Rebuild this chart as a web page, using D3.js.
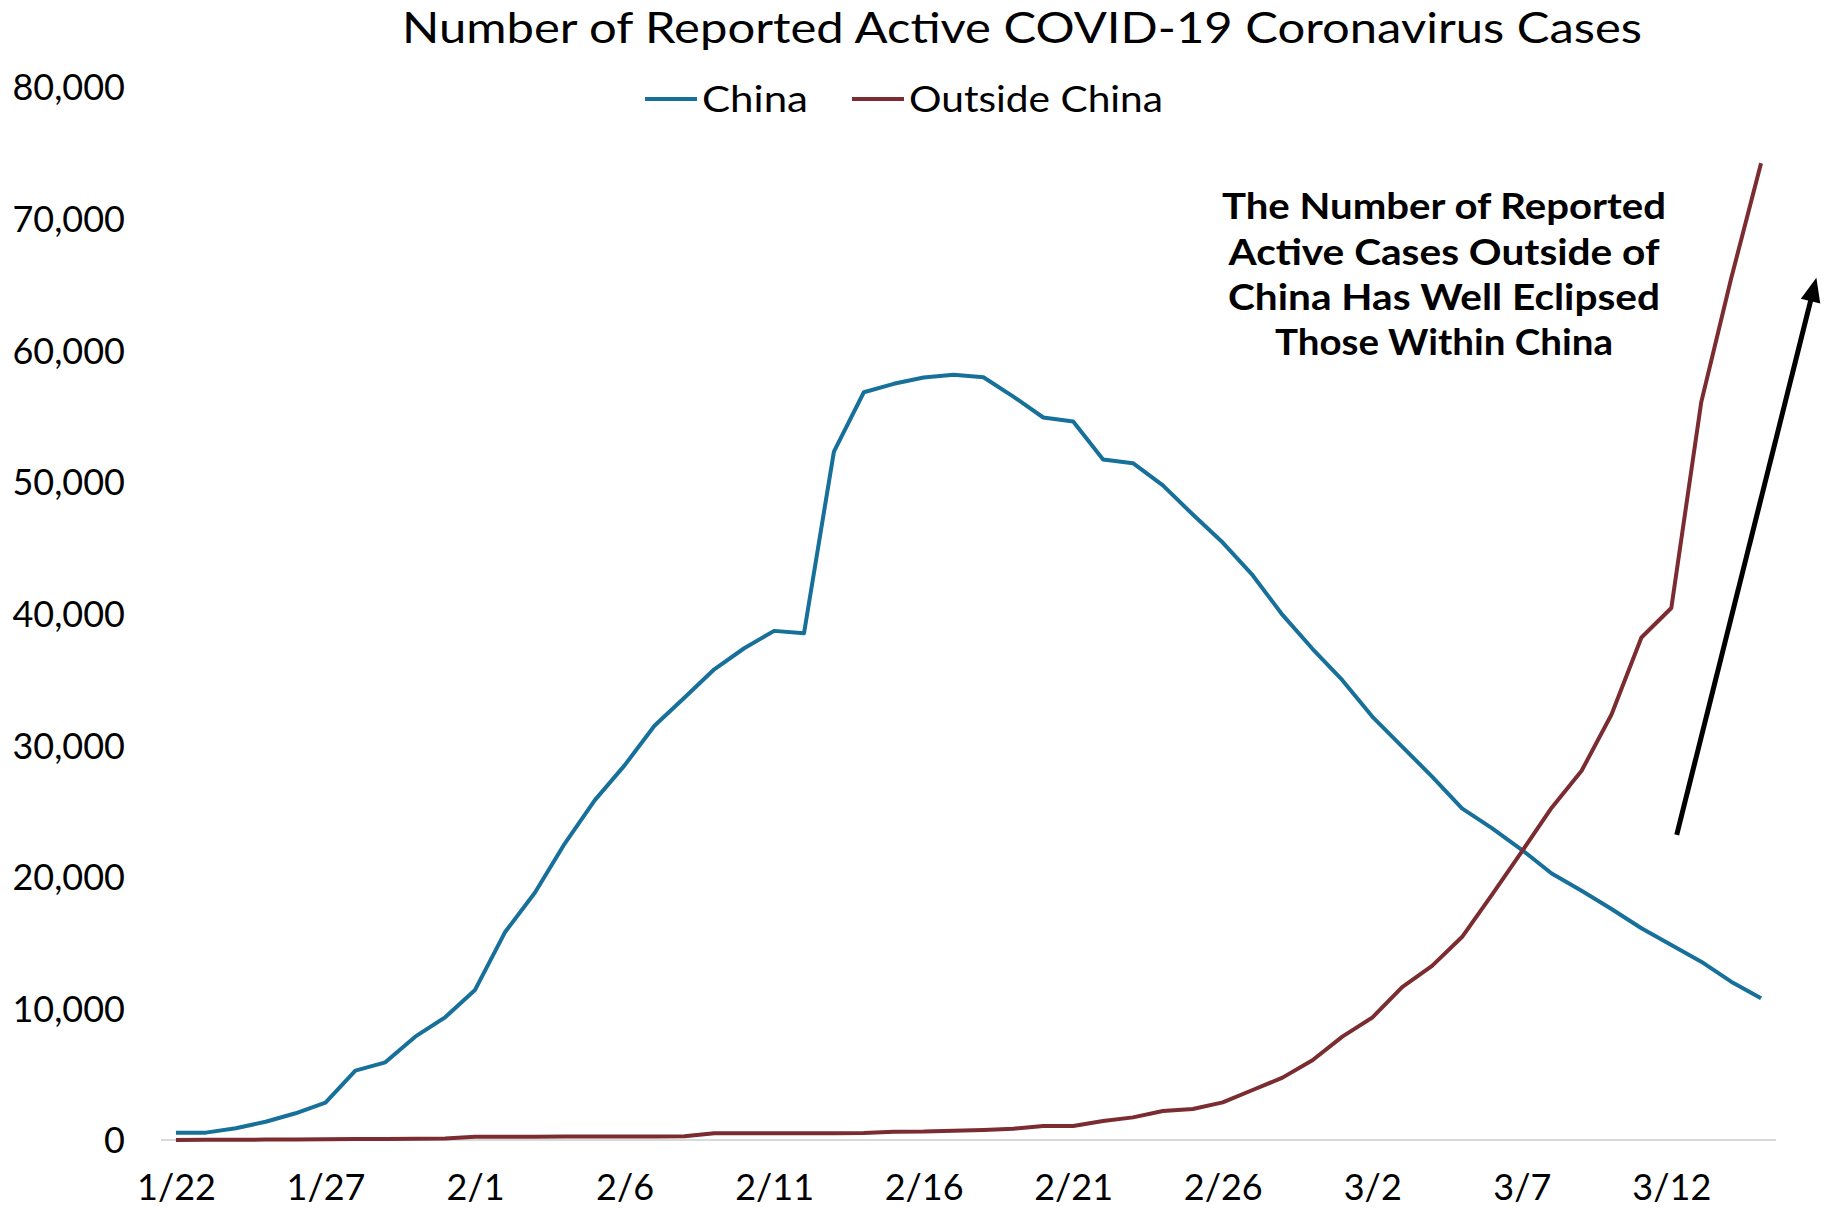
<!DOCTYPE html>
<html>
<head>
<meta charset="utf-8">
<script src="https://cdn.jsdelivr.net/npm/d3@7"></script>
<style>
  html, body { margin: 0; padding: 0; background: #ffffff; }
  svg { display: block; }
  text { font-family: Lato, "Open Sans", sans-serif; fill: #000; }
</style>
</head>
<body>
<svg id="chart" width="1829" height="1209"></svg>
<script>
// ---------- data ----------
const dates = [
  "1/22","1/23","1/24","1/25","1/26","1/27","1/28","1/29","1/30","1/31",
  "2/1","2/2","2/3","2/4","2/5","2/6","2/7","2/8","2/9","2/10",
  "2/11","2/12","2/13","2/14","2/15","2/16","2/17","2/18","2/19","2/20",
  "2/21","2/22","2/23","2/24","2/25","2/26","2/27","2/28","2/29","3/1",
  "3/2","3/3","3/4","3/5","3/6","3/7","3/8","3/9","3/10","3/11",
  "3/12","3/13","3/14","3/15"
];
const china = [
  560, 560, 890, 1390, 2030, 2840, 5270, 5900, 7850, 9320,
  11400, 15780, 18790, 22520, 25800, 28460, 31470, 33600, 35760, 37360,
  38680, 38500, 52300, 56810, 57450, 57930, 58130, 57950, 56480, 54890,
  54580, 51700, 51420, 49730, 47520, 45390, 42910, 39890, 37320, 34930,
  32170, 29890, 27610, 25200, 23700, 22050, 20250, 18930, 17550, 16090,
  14820, 13550, 12030, 10770
];
const outside = [
  7, 11, 20, 30, 40, 55, 70, 80, 90, 120,
  240, 250, 250, 260, 260, 270, 270, 280, 510, 510,
  520, 520, 520, 530, 630, 640, 710, 760, 860, 1060,
  1060, 1440, 1720, 2200, 2360, 2860, 3800, 4740, 6060, 7850,
  9300, 11620, 13230, 15420, 18620, 21910, 25250, 28050, 32330, 38180,
  40420, 56050, 65450, 74200
];
const xTickLabels = ["1/22","1/27","2/1","2/6","2/11","2/16","2/21","2/26","3/2","3/7","3/12"];
const yTickValues = [0, 10000, 20000, 30000, 40000, 50000, 60000, 70000, 80000];
const seriesNames = ["China", "Outside China"];
const titleText = "Number of Reported Active COVID-19 Coronavirus Cases";
const noteLines = ["The Number of Reported", "Active Cases Outside of", "China Has Well Eclipsed", "Those Within China"];
// arrow annotation in data space: [day index, value]
const arrowFrom = [50.18, 23180];
const arrowTo = [54.85, 65500];

// ---------- layout ----------
const svg = d3.select("#chart");
const colors = { "China": "#17709a", "Outside China": "#7b2c31" };

const x = d3.scalePoint().domain(dates).range([161, 1776]).padding(0.5);
const xi = d3.scaleLinear().domain([0, dates.length - 1]).range([x(dates[0]), x(dates[dates.length - 1])]);
const y = d3.scaleLinear().domain([0, 80000]).range([1140, 87]);

// title
svg.append("text")
  .attr("x", 1022).attr("y", 43)
  .attr("text-anchor", "middle")
  .attr("font-size", 42)
  .attr("textLength", 1240).attr("lengthAdjust", "spacingAndGlyphs")
  .text(titleText);

// y axis (labels only)
const yAxis = svg.append("g")
  .attr("transform", "translate(125,0)")
  .call(d3.axisLeft(y).tickValues(yTickValues).tickSize(0).tickPadding(0).tickFormat(d3.format(",")));
yAxis.select(".domain").remove();
yAxis.selectAll("text")
  .attr("font-family", "Lato, sans-serif")
  .attr("font-size", 36)
  .attr("fill", "#000")
  .attr("dy", "0.36em");

// x axis
const xAxis = svg.append("g")
  .attr("transform", `translate(0,${y(0)})`)
  .call(d3.axisBottom(x).tickValues(xTickLabels).tickSize(0).tickPadding(0));
xAxis.select(".domain")
  .attr("stroke", "#d9d9d9").attr("stroke-width", 2)
  .attr("d", `M161,0H1776`);
xAxis.selectAll("text")
  .attr("font-family", "Lato, sans-serif")
  .attr("font-size", 36)
  .attr("fill", "#000")
  .attr("dy", null)
  .attr("y", 60);

// lines
const line = d3.line()
  .x((d, i) => x(dates[i]))
  .y(d => y(d))
  .curve(d3.curveLinear);

[["China", china], ["Outside China", outside]].forEach(([name, vals]) => {
  svg.append("path")
    .datum(vals)
    .attr("fill", "none")
    .attr("stroke", colors[name])
    .attr("stroke-width", 4)
    .attr("stroke-linejoin", "round")
    .attr("d", line);
});

// legend
const legendItems = [
  { name: seriesNames[0], x0: 645, len: 106 },
  { name: seriesNames[1], x0: 852, len: 254 }
];
legendItems.forEach(it => {
  svg.append("line")
    .attr("x1", it.x0).attr("x2", it.x0 + 52)
    .attr("y1", 99).attr("y2", 99)
    .attr("stroke", colors[it.name]).attr("stroke-width", 4);
  svg.append("text")
    .attr("x", it.x0 + 57).attr("y", 112)
    .attr("font-size", 36)
    .attr("textLength", it.len).attr("lengthAdjust", "spacingAndGlyphs")
    .text(it.name);
});

// annotation text
const noteWidths = [444, 431, 432, 338];
const noteBase = [219, 265, 310, 355];
noteLines.forEach((t, i) => {
  svg.append("text")
    .attr("x", 1444).attr("y", noteBase[i])
    .attr("text-anchor", "middle")
    .attr("font-size", 36)
    .attr("font-weight", "bold")
    .attr("textLength", noteWidths[i]).attr("lengthAdjust", "spacingAndGlyphs")
    .text(t);
});

// arrow
const ax0 = xi(arrowFrom[0]), ay0 = y(arrowFrom[1]);
const ax1 = xi(arrowTo[0]), ay1 = y(arrowTo[1]);
const dx = ax1 - ax0, dy = ay1 - ay0, L = Math.hypot(dx, dy);
const ux = dx / L, uy = dy / L, nx = -uy, ny = ux;
const headLen = 24, headHalf = 10;
const bx = ax1 - ux * headLen, by = ay1 - uy * headLen;
svg.append("line")
  .attr("x1", ax0).attr("y1", ay0)
  .attr("x2", bx + ux * 2).attr("y2", by + uy * 2)
  .attr("stroke", "#000").attr("stroke-width", 5);
svg.append("path")
  .attr("d", `M${ax1},${ay1}L${bx + nx * headHalf},${by + ny * headHalf}L${bx - nx * headHalf},${by - ny * headHalf}Z`)
  .attr("fill", "#000");
</script>
</body>
</html>
